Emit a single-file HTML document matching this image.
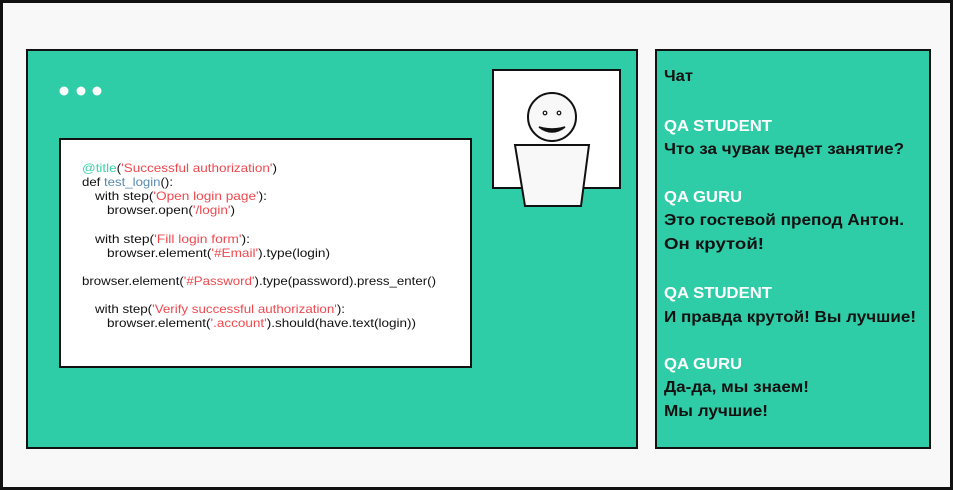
<!DOCTYPE html>
<html><head><meta charset="utf-8"><style>
html,body{margin:0;padding:0;background:#fff}
svg{display:block}
.c{font-family:"Liberation Sans",sans-serif;font-size:12px;fill:#111}
.r{fill:#f0484e}
.ch{font-family:"Liberation Sans","Noto Sans CJK SC",sans-serif;font-size:16px;font-weight:bold;fill:#111}
.w{fill:#fff}
</style></head><body>
<svg width="953" height="490" viewBox="0 0 953 490" xmlns="http://www.w3.org/2000/svg">
<rect x="1.5" y="1.5" width="950" height="487" fill="#f8f8f8" stroke="#111" stroke-width="3"/>
<rect x="27" y="50" width="610" height="398" fill="#2ecda7" stroke="#111" stroke-width="2"/>
<rect x="656" y="50" width="274" height="398" fill="#2ecda7" stroke="#111" stroke-width="2"/>
<circle cx="64" cy="91" r="4.5" fill="#fff"/>
<circle cx="81" cy="91" r="4.5" fill="#fff"/>
<circle cx="97" cy="91" r="4.5" fill="#fff"/>
<rect x="60" y="139" width="411" height="228" fill="#fff" stroke="#111" stroke-width="2"/>
<g class="c">
<text x="82" y="172" textLength="195" lengthAdjust="spacingAndGlyphs"><tspan fill="#3ed3a8">@title</tspan>(<tspan class="r">'Successful authorization'</tspan>)</text>
<text x="82" y="186" textLength="91" lengthAdjust="spacingAndGlyphs">def <tspan fill="#5a8ab0">test_login</tspan>():</text>
<text x="95" y="200" textLength="172" lengthAdjust="spacingAndGlyphs">with step(<tspan class="r">'Open login page'</tspan>):</text>
<text x="107" y="214" textLength="128" lengthAdjust="spacingAndGlyphs">browser.open(<tspan class="r">'/login'</tspan>)</text>
<text x="95" y="243" textLength="155" lengthAdjust="spacingAndGlyphs">with step(<tspan class="r">'Fill login form'</tspan>):</text>
<text x="107" y="257" textLength="223" lengthAdjust="spacingAndGlyphs">browser.element(<tspan class="r">'#Email'</tspan>).type(login)</text>
<text x="82" y="285" textLength="354" lengthAdjust="spacingAndGlyphs">browser.element(<tspan class="r">'#Password'</tspan>).type(password).press_enter()</text>
<text x="95" y="313" textLength="250" lengthAdjust="spacingAndGlyphs">with step(<tspan class="r">'Verify successful authorization'</tspan>):</text>
<text x="107" y="327" textLength="309" lengthAdjust="spacingAndGlyphs">browser.element(<tspan class="r">'.account'</tspan>).should(have.text(login))</text>
</g>
<rect x="493" y="70" width="127" height="118" fill="#fff" stroke="#111" stroke-width="2"/>
<circle cx="552" cy="117" r="24" fill="#f8f8f8" stroke="#111" stroke-width="2"/>
<circle cx="545" cy="113" r="1.8" fill="none" stroke="#111" stroke-width="1.2"/>
<circle cx="559" cy="113" r="1.8" fill="none" stroke="#111" stroke-width="1.2"/>
<path d="M539 127 Q552 137 565 127 Q552 131 539 127Z" fill="#111" stroke="#111" stroke-width="1.5"/>
<polygon points="515,145 589,145 581,206 525,206" fill="#f8f8f8" stroke="#111" stroke-width="2"/>
<g class="ch">
<text x="664" y="81" textLength="29" lengthAdjust="spacingAndGlyphs">Чат</text>
<text x="664" y="131" class="w" textLength="108" lengthAdjust="spacingAndGlyphs">QA STUDENT</text>
<text x="664" y="154" textLength="240" lengthAdjust="spacingAndGlyphs">Что за чувак ведет занятие?</text>
<text x="664" y="202" class="w" textLength="78" lengthAdjust="spacingAndGlyphs">QA GURU</text>
<text x="664" y="225" textLength="240" lengthAdjust="spacingAndGlyphs">Это гостевой препод Антон.</text>
<text x="664" y="249" textLength="100" lengthAdjust="spacingAndGlyphs">Он крутой!</text>
<text x="664" y="298" class="w" textLength="108" lengthAdjust="spacingAndGlyphs">QA STUDENT</text>
<text x="664" y="322" textLength="252" lengthAdjust="spacingAndGlyphs">И правда крутой! Вы лучшие!</text>
<text x="664" y="369" class="w" textLength="78" lengthAdjust="spacingAndGlyphs">QA GURU</text>
<text x="664" y="392" textLength="145" lengthAdjust="spacingAndGlyphs">Да-да, мы знаем!</text>
<text x="664" y="416" textLength="104" lengthAdjust="spacingAndGlyphs">Мы лучшие!</text>
</g>
</svg>
</body></html>
